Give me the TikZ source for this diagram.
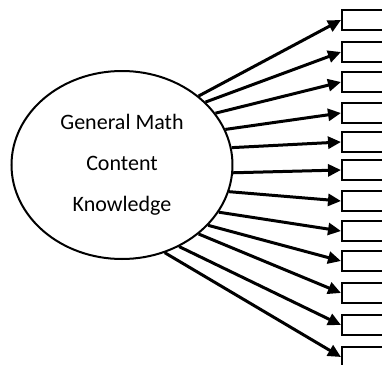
\documentclass[tikz,border=0pt]{standalone}
\usepackage{fontspec}
\setmainfont{Carlito}
\usetikzlibrary{shapes.geometric,arrows.meta}

\begin{document}
\begin{tikzpicture}[
	x=0.5pt, y=-0.5pt,
	factor/.style={
		ellipse,
		draw=black,
		line width=1pt,
		minimum width=110.5pt,
		minimum height=94pt,
		align=center,
		font=\fontsize{11}{20.5}\selectfont
	},
	itembox/.style={
		rectangle,
		draw=black,
		line width=0.9pt,
		minimum width=30pt,
		minimum height=10pt,
		anchor=west
	},
	loading/.style={
		-{Triangle[length=6.5pt,width=6pt]},
		line width=1.5pt,
		color=black
	}
	]
	
	\clip (0,0) rectangle (382,365);
	
	% Latent factor
	\node[factor] (gmck) at (122,165) {General Math\\Content\\Knowledge};
	
	% Indicator boxes
	\node[itembox] (i1) at (341,20) {};
	\node[itembox] (i2) at (341,52) {};
	\node[itembox] (i3) at (341,82) {};
	\node[itembox] (i4) at (341,113) {};
	\node[itembox] (i5) at (341,142) {};
	\node[itembox] (i6) at (341,170) {};
	\node[itembox] (i7) at (341,201) {};
	\node[itembox] (i8) at (341,231) {};
	\node[itembox] (i9) at (341,261) {};
	\node[itembox] (i10) at (341,293) {};
	\node[itembox] (i11) at (341,325) {};
	\node[itembox] (i12) at (341,357) {};
	
	% Loadings
	\draw[loading] (gmck.42) -- (i1.west);
	\draw[loading] (gmck.37) -- (i2.west);
	\draw[loading] (gmck.29) -- (i3.west);
	\draw[loading] (gmck.19) -- (i4.west);
	\draw[loading] (gmck.9) -- (i5.west);
	\draw[loading] (gmck.-4) -- (i6.west);
	\draw[loading] (gmck.-14) -- (i7.west);
	\draw[loading] (gmck.-26) -- (i8.west);
	\draw[loading] (gmck.-35) -- (i9.west);
	\draw[loading] (gmck.-42) -- (i10.west);
	\draw[loading] (gmck.-55) -- (i11.west);
	\draw[loading] (gmck.-64) -- (i12.west);
	
\end{tikzpicture}
\end{document}
